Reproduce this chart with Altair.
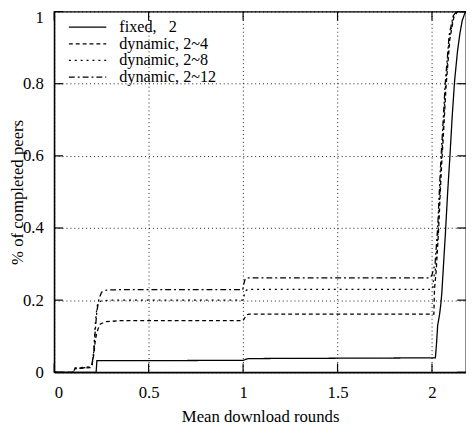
import altair as alt
import pandas as pd

series_names = ["fixed,\u00a0\u00a0\u00a02", "dynamic, 2~4", "dynamic, 2~8", "dynamic, 2~12"]

fixed_x = [0, 0.222, 0.226, 1.0, 1.02, 1.03, 2.018, 2.024, 2.03, 2.04, 2.047, 2.052, 2.06, 2.071, 2.083,
           2.095, 2.107, 2.12, 2.135, 2.148, 2.16, 2.172, 2.18]
fixed_y = [0, 0, 0.032, 0.033, 0.037, 0.038, 0.04, 0.08, 0.13, 0.16, 0.19, 0.22, 0.29, 0.385, 0.5,
           0.6, 0.71, 0.81, 0.89, 0.94, 0.975, 0.993, 1.0]

dyn4_x = [0, 0.1, 0.11, 0.19, 0.2, 0.21, 0.218, 0.226, 0.236, 0.245, 0.27, 0.35, 1.0, 1.01, 1.018, 1.03,
          2.01, 2.013, 2.022, 2.034, 2.048, 2.06, 2.074, 2.095, 2.116, 2.135, 2.18]
dyn4_y = [0, 0, 0.01, 0.013, 0.02, 0.05, 0.09, 0.11, 0.126, 0.134, 0.14, 0.143, 0.143, 0.152, 0.159, 0.161,
          0.161, 0.23, 0.28, 0.385, 0.546, 0.655, 0.79, 0.926, 0.985, 1.0, 1.0]

dyn8_x = [0, 0.1, 0.11, 0.19, 0.2, 0.21, 0.216, 0.222, 0.228, 0.234, 0.25, 0.3, 1.0, 1.006, 1.014, 1.025,
          2.004, 2.008, 2.02, 2.032, 2.046, 2.058, 2.072, 2.093, 2.114, 2.132, 2.18]
dyn8_y = [0, 0, 0.012, 0.015, 0.02, 0.06, 0.12, 0.16, 0.185, 0.194, 0.198, 0.2, 0.2, 0.214, 0.226, 0.23,
          0.23, 0.26, 0.29, 0.39, 0.55, 0.66, 0.795, 0.93, 0.987, 1.0, 1.0]

dyn12_x = [0, 0.1, 0.11, 0.19, 0.2, 0.21, 0.218, 0.226, 0.238, 0.251, 0.277, 0.35, 0.998, 1.004, 1.01, 1.018,
           1.99, 2.0, 2.016, 2.03, 2.044, 2.056, 2.07, 2.091, 2.112, 2.13, 2.18]
dyn12_y = [0, 0, 0.01, 0.014, 0.02, 0.06, 0.12, 0.17, 0.205, 0.222, 0.228, 0.229, 0.229, 0.245, 0.257, 0.262,
           0.262, 0.27, 0.3, 0.4, 0.56, 0.67, 0.8, 0.935, 0.988, 1.0, 1.0]

x_ticks = [0, 0.5, 1, 1.5, 2]
y_ticks = [0, 0.2, 0.4, 0.6, 0.8, 1]
X_MAX = 2.18

W, H = 419, 367
FONT = "Liberation Serif"

rows = []
for name, xs, ys in zip(series_names,
                        [fixed_x, dyn4_x, dyn8_x, dyn12_x],
                        [fixed_y, dyn4_y, dyn8_y, dyn12_y]):
    for i, (x, y) in enumerate(zip(xs, ys)):
        rows.append({"series": name, "x": x, "y": y, "order": i})
df = pd.DataFrame(rows)

xscale = alt.Scale(domain=[0, X_MAX], nice=False, zero=False)
yscale = alt.Scale(domain=[0, 1], nice=False, zero=False)

tlx = 9 * X_MAX / W
tly = 9 / H
tick_rows = []
for t in x_ticks:
    tick_rows.append({"x": t, "x2": t, "y": 0, "y2": tly})
    tick_rows.append({"x": t, "x2": t, "y": 1, "y2": 1 - tly})
for t in y_ticks:
    tick_rows.append({"x": 0, "x2": tlx, "y": t, "y2": t})
    tick_rows.append({"x": X_MAX, "x2": X_MAX - tlx, "y": t, "y2": t})
ticks_df = pd.DataFrame(tick_rows)

lines = alt.Chart(df).mark_line(color="black", strokeWidth=1.3, clip=True).encode(
    x=alt.X("x:Q", scale=xscale,
            axis=alt.Axis(values=x_ticks, format="~g", title="Mean download rounds",
                          labelPadding=13, titlePadding=8)),
    y=alt.Y("y:Q", scale=yscale,
            axis=alt.Axis(values=y_ticks, format="~g", title="% of completed peers",
                          labelPadding=11, titleX=-32, titleY=H / 2,
                          titleBaseline="alphabetic",
                          labelOffset={"condition": {"test": "datum.value == 1", "value": 6},
                                       "value": 0})),
    strokeDash=alt.StrokeDash(
        "series:N",
        scale=alt.Scale(domain=series_names,
                        range=[[1, 0], [4, 3], [2, 4], [6, 3, 2, 3]]),
        legend=alt.Legend(title=None, orient="none", legendX=25.7, legendY=7.5,
                          symbolType="M-3.8,0H3.8", symbolSize=100, symbolStrokeWidth=1.3,
                          symbolStrokeColor="black", symbolFillColor="transparent",
                          labelFont=FONT, labelFontSize=16.5,
                          labelOffset=24, rowPadding=-1, padding=0, labelColor="black"),
    ),
    order="order:Q",
)

ticks = alt.Chart(ticks_df).mark_rule(color="black", strokeWidth=1.2).encode(
    x=alt.X("x:Q", scale=xscale), x2="x2:Q",
    y=alt.Y("y:Q", scale=yscale), y2="y2:Q",
)

chart = alt.layer(lines, ticks).properties(
    width=W, height=H,
    autosize=alt.AutoSizeParams(type="none"),
    padding={"left": 47, "top": 0, "right": 0, "bottom": 50},
).configure_view(
    stroke="black", strokeWidth=1.3
).configure_axis(
    labelFont=FONT, labelFontSize=17, labelColor="black",
    titleFont=FONT, titleFontSize=17, titleFontWeight="normal", titleColor="black",
    tickSize=0, domainColor="black", domainWidth=1.3,
    grid=True, gridDash=[1, 3], gridColor="black", gridOpacity=0.9, gridWidth=1,
)

chart.save("out.html", embed_options={"renderer": "svg", "actions": False})
